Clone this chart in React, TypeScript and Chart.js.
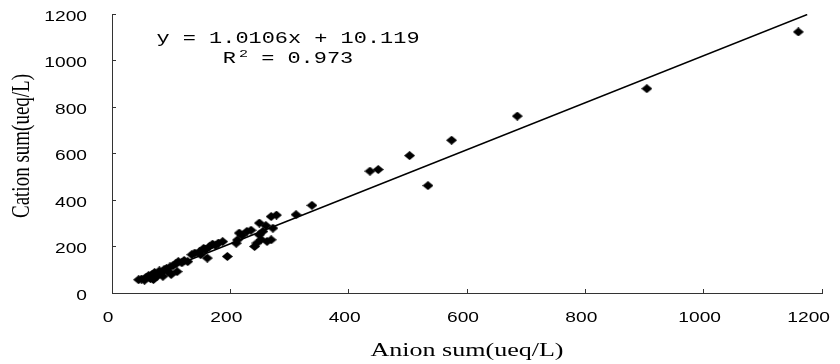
import { useEffect, useRef } from "react";
import { Chart, registerables } from "chart.js";

Chart.register(...registerables);

// Anion sum (x) and cation sum (y), ueq/L
const anionSum = [
  45, 50, 55, 58, 62, 65, 68, 70, 72, 75, 78, 80, 83, 86, 88, 92, 95, 98, 100, 103,
  108, 110, 112, 118, 122, 128, 135, 140, 148, 150, 155, 158, 161, 165, 170, 175, 180,
  187, 195, 210, 212, 215, 220, 228, 235, 241, 245, 249, 249, 252, 255, 260, 262, 269,
  269, 272, 278, 311, 338, 436, 450, 503, 534, 574, 685, 904, 1160,
];
const cationSum = [
  57, 60, 55, 68, 75, 62, 80, 58, 88, 70, 78, 95, 85, 72, 100, 105, 92, 112, 80, 118,
  125, 92, 135, 130, 140, 135, 165, 172, 178, 165, 192, 186, 150, 200, 210, 205, 215,
  221, 157, 214, 228, 258, 248, 265, 270, 200, 215, 250, 301, 230, 265, 290, 222, 229,
  329, 279, 335, 337, 377, 524, 531, 591, 462, 657, 761, 879, 1123,
];

const axisTicks = [0, 200, 400, 600, 800, 1000, 1200];
const trendX = [50, 1175];
const slope = 1.0106;
const intercept = 10.119;
const rSquared = "0.973";
const equationText = "y = 1.0106x + 10.119";
const xTitle = "Anion sum(ueq/L)";
const yTitle = "Cation sum(ueq/L)";

const SX = 1.37;

function stretchText(
  ctx: CanvasRenderingContext2D,
  text: string,
  x: number,
  y: number,
  font: string,
  align: CanvasTextAlign,
  baseline: CanvasTextBaseline,
  sx = SX
) {
  ctx.save();
  ctx.font = font;
  ctx.textAlign = align;
  ctx.textBaseline = baseline;
  ctx.fillStyle = "#000";
  ctx.translate(x, y);
  ctx.scale(sx, 1);
  ctx.fillText(text, 0, 0);
  ctx.restore();
}

function makeDiamond(): HTMLCanvasElement {
  const c = document.createElement("canvas");
  c.width = 11;
  c.height = 9;
  const g = c.getContext("2d")!;
  g.fillStyle = "#000";
  g.beginPath();
  g.moveTo(5.5, 0);
  g.lineTo(11, 4.5);
  g.lineTo(5.5, 9);
  g.lineTo(0, 4.5);
  g.closePath();
  g.fill();
  return c;
}

const textPlugin = {
  id: "textPlugin",
  afterDraw(chart: any) {
    const ctx: CanvasRenderingContext2D = chart.ctx;
    const xs = chart.scales.x;
    const ys = chart.scales.y;
    const area = chart.chartArea;
    const tickFont = '14px "Liberation Sans"';
    for (const v of axisTicks) {
      ctx.save();
      ctx.font = tickFont;
      const w = ctx.measureText(String(v)).width * SX;
      ctx.restore();
      const cx = Math.min(xs.getPixelForValue(v) - 4, chart.width - 2 - w / 2);
      stretchText(ctx, String(v), cx, area.bottom + 25, tickFont, "center", "middle");
      stretchText(ctx, String(v), area.left - 25, ys.getPixelForValue(v) + 3, tickFont, "right", "middle");
    }
    // axis titles
    const titleFont = '19px "Liberation Serif"';
    stretchText(ctx, xTitle, (area.left + area.right) / 2, area.bottom + 63, titleFont, "center", "alphabetic");
    ctx.save();
    ctx.font = titleFont;
    ctx.textAlign = "center";
    ctx.textBaseline = "middle";
    ctx.fillStyle = "#000";
    ctx.translate(14, area.top + 132);
    ctx.rotate(-Math.PI / 2);
    ctx.scale(1, SX);
    ctx.fillText(yTitle, 0, 0);
    ctx.restore();

    // equation
    const eqFont = '16px "Liberation Mono"';
    const supFont = '11px "Liberation Mono"';
    const cx = area.left + 176;
    stretchText(ctx, equationText, cx, area.top + 29, eqFont, "center", "alphabetic");
    ctx.save();
    ctx.font = eqFont;
    const wR = ctx.measureText("R").width * SX;
    const wRest = ctx.measureText(" = " + rSquared).width * SX;
    ctx.font = supFont;
    const w2 = ctx.measureText("2").width * SX;
    ctx.restore();
    const total = wR + w2 + 3 + wRest;
    let px = cx - total / 2;
    const base2 = area.top + 49;
    stretchText(ctx, "R", px, base2, eqFont, "left", "alphabetic");
    px += wR + 3;
    stretchText(ctx, "2", px, base2 - 6, supFont, "left", "alphabetic");
    px += w2;
    stretchText(ctx, " = " + rSquared, px, base2, eqFont, "left", "alphabetic");
  },
};

export default function App() {
  const canvasRef = useRef<HTMLCanvasElement | null>(null);

  useEffect(() => {
    const canvas = canvasRef.current;
    if (!canvas) return;
    const points = anionSum.map((x, i) => ({ x, y: cationSum[i] }));
    const trend = trendX.map((x) => ({ x, y: slope * x + intercept }));
    const diamond = makeDiamond();

    const axisCommon = {
      type: "linear" as const,
      min: 0,
      max: 1200,
      ticks: { stepSize: 200, display: false },
      grid: {
        drawOnChartArea: false,
        drawTicks: true,
        tickLength: -4,
        color: "#333",
        lineWidth: 1,
      },
      border: { display: true, color: "#333", width: 1 },
      title: { display: false },
    };

    const chart = new Chart(canvas, {
      type: "scatter",
      data: {
        datasets: [
          {
            type: "line",
            label: "trend",
            data: trend,
            borderColor: "#000",
            borderWidth: 1.6,
            pointRadius: 0,
            fill: false,
            showLine: true,
          } as any,
          {
            label: "samples",
            data: points,
            pointStyle: diamond,
            pointRadius: 5,
            pointBackgroundColor: "#000",
            pointBorderColor: "#000",
          },
        ],
      },
      options: {
        animation: false,
        responsive: false,
        devicePixelRatio: 1,
        layout: { padding: { top: 5, right: 10, left: 0, bottom: 0 } },
        plugins: {
          legend: { display: false },
          tooltip: { enabled: false },
        },
        scales: {
          x: {
            ...axisCommon,
            position: "bottom",
            afterFit: (s: any) => {
              s.height = 71;
              s.paddingLeft = 0;
              s.paddingRight = 0;
            },
          },
          y: {
            ...axisCommon,
            position: "left",
            afterFit: (s: any) => {
              s.width = 104;
              s.paddingTop = 0;
              s.paddingBottom = 0;
            },
          },
        },
      } as any,
      plugins: [textPlugin],
    });
    return () => chart.destroy();
  }, []);

  return (
    <div style={{ width: 824, height: 356 }}>
      <canvas ref={canvasRef} width={824} height={356} style={{ display: "block" }} />
    </div>
  );
}
